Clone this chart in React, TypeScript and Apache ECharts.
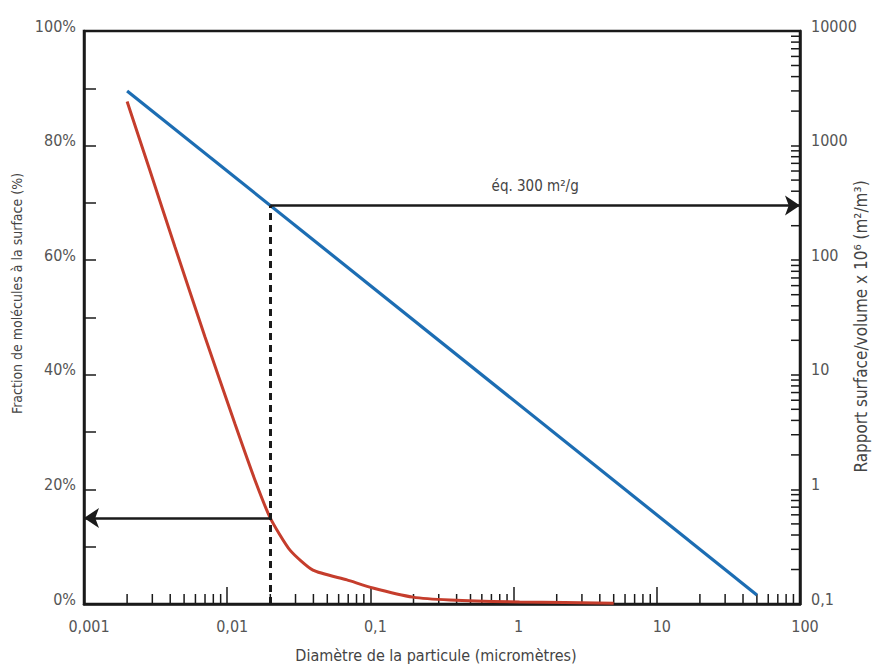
import React, { useEffect, useRef } from "react";
import * as echarts from "echarts";

// Diameter of the particle (micrometres) and fraction of molecules at the surface (%)
const redDiameters = [0.002, 0.00289, 0.00432, 0.007, 0.01134, 0.01564, 0.02, 0.02745, 0.0397, 0.0686, 0.104, 0.198, 0.36, 1.1, 5];
const redFractions = [87.7, 75.6, 62.3, 46.6, 31.4, 21.6, 15.0, 9.4, 5.9, 4.2, 2.8, 1.2, 0.7, 0.35, 0.15];

// Surface/volume ratio x 10^6 (m2/m3)
const blueDiameters = [0.002, 50];
const blueRatios = [3000, 0.12];

// Reference reading
const refDiameter = 0.02;
const refFraction = 15;
const refRatio = 300;

// Axis scaffolding
const xMin = 0.001;
const xMax = 100;
const yRightMin = 0.1;
const yRightMax = 10000;
const xDecades = [0.001, 0.01, 0.1, 1, 10];
const yDecades = [0.1, 1, 10, 100, 1000];
const minorMultipliers = [2, 3, 4, 5, 6, 7, 8, 9];

const FONT = "'DejaVu Sans Condensed', 'Liberation Sans Narrow', 'Roboto Condensed', 'Noto Sans', sans-serif";
const AXIS_COLOR = "#1a1a1a";
const TEXT_COLOR = "#555555";
const BLUE = "#1c6db3";
const RED = "#c53d2c";

const fmt = (v: number) => String(parseFloat(Number(v).toPrecision(6))).replace(".", ",");

const richUp = {
  v: { fontSize: 16, color: TEXT_COLOR, fontFamily: FONT, padding: [0, 0, 10, 0] },
};
const richRight = {
  v: { fontSize: 16, color: TEXT_COLOR, fontFamily: FONT, padding: [0, 0, 0, 10] },
};

export default function App() {
  const ref = useRef<HTMLDivElement>(null);

  useEffect(() => {
    if (!ref.current) return;
    const chart = echarts.init(ref.current, undefined, { renderer: "svg" });

    const xMinor: number[][] = [];
    xDecades.forEach((d) => minorMultipliers.forEach((m) => xMinor.push([parseFloat((d * m).toPrecision(6)), 0])));
    const yMinor: number[][] = [];
    yDecades.forEach((d) => minorMultipliers.forEach((m) => yMinor.push([xMax, parseFloat((d * m).toPrecision(6))])));

    chart.setOption({
      animation: false,
      backgroundColor: "#ffffff",
      textStyle: { fontFamily: FONT },
      grid: {
        left: 84,
        right: 72,
        top: 31,
        bottom: 62,
        containLabel: false,
        outerBoundsMode: "none",
        show: true,
        borderColor: AXIS_COLOR,
        borderWidth: 2.5,
        backgroundColor: "transparent",
      },
      xAxis: {
        type: "log",
        logBase: 10,
        min: xMin,
        max: xMax,
        name: "Diamètre de la particule (micromètres)",
        nameLocation: "middle",
        nameGap: 43,
        nameTextStyle: { fontSize: 16, color: "#444", fontFamily: FONT, padding: [0, 12, 0, 0] },
        axisLine: { show: true, lineStyle: { color: AXIS_COLOR, width: 2.5 } },
        axisTick: { show: true, inside: true, length: 17, lineStyle: { color: AXIS_COLOR, width: 1.5 } },
        axisLabel: {
          color: TEXT_COLOR,
          fontSize: 16,
          margin: 14,
          formatter: (v: number) => `{v|${fmt(v)}}`,
          rich: richRight,
        },
        splitLine: { show: false },
      },
      yAxis: [
        {
          type: "value",
          min: 0,
          max: 100,
          interval: 10,
          position: "left",
          name: "Fraction de molécules à la surface (%)",
          nameLocation: "middle",
          nameGap: 60,
          nameTextStyle: { fontSize: 14, color: "#444", fontFamily: FONT, padding: [0, 0, 0, 48] },
          axisLine: { show: true, lineStyle: { color: AXIS_COLOR, width: 2.5 } },
          axisTick: { show: true, inside: true, length: 12, lineStyle: { color: AXIS_COLOR, width: 1.5 } },
          axisLabel: {
            color: TEXT_COLOR,
            fontSize: 16,
            margin: 8,
            formatter: (v: number) => (Math.round(v) % 20 === 0 ? `{v|${Math.round(v)}%}` : ""),
            rich: richUp,
          },
          splitLine: { show: false },
        },
        {
          type: "log",
          logBase: 10,
          min: yRightMin,
          max: yRightMax,
          position: "right",
          name: "Rapport surface/volume x 10⁶ (m²/m³)",
          nameLocation: "middle",
          nameGap: 52,
          nameMoveOverlap: false,
          nameTextStyle: { fontSize: 17, color: "#444", fontFamily: FONT, padding: [0, 18, 0, 0] },
          axisLine: { show: true, lineStyle: { color: AXIS_COLOR, width: 2.5 } },
          axisTick: { show: true, inside: true, length: 9, lineStyle: { color: AXIS_COLOR, width: 1.5 } },
          axisLabel: {
            color: TEXT_COLOR,
            fontSize: 16,
            margin: 11,
            formatter: (v: number) => `{v|${fmt(v)}}`,
            rich: richUp,
          },
          splitLine: { show: false },
        },
      ],
      series: [
        {
          name: "Fraction",
          type: "line",
          yAxisIndex: 0,
          data: redDiameters.map((d, i) => [d, redFractions[i]]),
          smooth: 0.2,
          showSymbol: false,
          symbol: "none",
          lineStyle: { color: RED, width: 3 },
          z: 3,
          markLine: {
            silent: true,
            animation: false,
            symbol: ["none", "arrow"],
            symbolSize: 15,
            label: { show: false },
            lineStyle: { color: AXIS_COLOR, width: 2.5, type: "solid" },
            data: [
              [
                { coord: [refDiameter, refFraction], symbol: "none" },
                { coord: [xMin, refFraction], symbol: "arrow" },
              ],
            ],
          },
        },
        {
          name: "Ratio",
          type: "line",
          yAxisIndex: 1,
          data: blueDiameters.map((d, i) => [d, blueRatios[i]]),
          showSymbol: false,
          symbol: "none",
          lineStyle: { color: BLUE, width: 3.2 },
          z: 3,
          markLine: {
            silent: true,
            animation: false,
            symbol: ["none", "arrow"],
            symbolSize: 15,
            label: { show: false },
            lineStyle: { color: AXIS_COLOR, width: 2.5, type: "solid" },
            data: [
              [
                {
                  coord: [refDiameter, refRatio],
                  symbol: "none",
                  label: {
                    show: true,
                    position: "middle",
                    formatter: "éq. 300 m²/g",
                    color: "#444",
                    fontSize: 15,
                    fontFamily: FONT,
                    distance: 12,
                  },
                },
                { coord: [xMax, refRatio], symbol: "arrow" },
              ],
              [
                {
                  coord: [refDiameter, yRightMin],
                  symbol: "none",
                  lineStyle: { type: [7, 5], width: 3, color: AXIS_COLOR },
                },
                { coord: [refDiameter, refRatio], symbol: "none" },
              ],
            ],
          },
        },
        {
          name: "xMinorTicks",
          type: "custom",
          yAxisIndex: 0,
          data: xMinor,
          silent: true,
          z: 1,
          renderItem: (params: any, api: any) => {
            const p = api.coord([api.value(0), api.value(1)]);
            return {
              type: "line",
              shape: { x1: p[0], y1: p[1], x2: p[0], y2: p[1] - 10 },
              style: { stroke: AXIS_COLOR, lineWidth: 1.5 },
            };
          },
        },
        {
          name: "yMinorTicks",
          type: "custom",
          yAxisIndex: 1,
          data: yMinor,
          silent: true,
          z: 1,
          renderItem: (params: any, api: any) => {
            const p = api.coord([api.value(0), api.value(1)]);
            return {
              type: "line",
              shape: { x1: p[0] - 9, y1: p[1], x2: p[0], y2: p[1] },
              style: { stroke: AXIS_COLOR, lineWidth: 1.5 },
            };
          },
        },
      ],
    });

    return () => chart.dispose();
  }, []);

  return (
    <div
      ref={ref}
      style={{ position: "fixed", left: 0, top: 0, width: 872, height: 666, background: "#fff" }}
    />
  );
}
